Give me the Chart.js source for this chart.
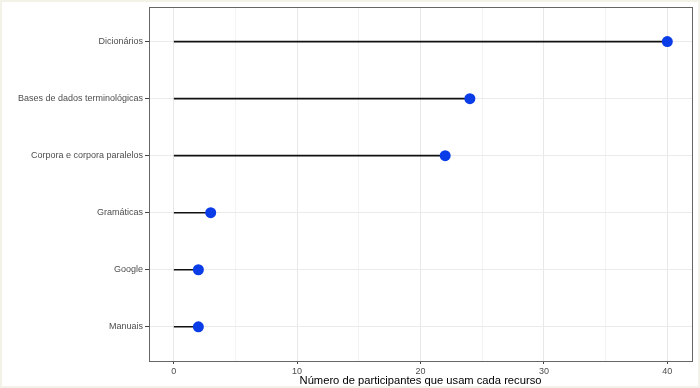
<!DOCTYPE html>
<html>
<head>
<meta charset="utf-8">
<script src="https://cdn.jsdelivr.net/npm/chart.js@4/dist/chart.umd.min.js"></script>
<style>
  html, body { margin: 0; padding: 0; background: #f3f2e8; }
  canvas { display: block; }
</style>
</head>
<body>
<canvas id="chart" width="700" height="388"></canvas>
<script>
// resources, top to bottom
const categories = ['Dicionários', 'Bases de dados terminológicas', 'Corpora e corpora paralelos', 'Gramáticas', 'Google', 'Manuais'];
const counts = [40, 24, 22, 3, 2, 2];
const majorTicks = [0, 10, 20, 30, 40];
const minorTicks = [5, 15, 25, 35];
const axisTitle = 'Número de participantes que usam cada recurso';

const n = categories.length;
const yPos = categories.map((c, i) => n - i);

// page frame + panel border like the ggplot theme_bw
const panelPlugin = {
    id: 'panel',
    beforeDraw(chart) {
        const ctx = chart.ctx;
        ctx.save();
        ctx.fillStyle = '#f3f2e8';
        ctx.fillRect(0, 0, chart.width, chart.height);
        ctx.fillStyle = '#ffffff';
        ctx.fillRect(2, 2, chart.width - 4, chart.height - 4);
        ctx.restore();
    },
    afterDraw(chart) {
        const a = chart.chartArea;
        const ctx = chart.ctx;
        ctx.save();
        ctx.strokeStyle = '#666666';
        ctx.lineWidth = 1;
        ctx.strokeRect(Math.round(a.left) + 0.5, Math.round(a.top) + 0.5,
            Math.round(a.right - a.left), Math.round(a.bottom - a.top));
        ctx.restore();
    }
};

const ctx = document.getElementById('chart').getContext('2d');
new Chart(ctx, {
    type: 'bar',
    data: {
        datasets: [
            {
                type: 'scatter',
                order: 0,
                data: counts.map((v, i) => ({ x: v, y: yPos[i] })),
                pointRadius: 5.5,
                pointBackgroundColor: '#0a3ce8',
                pointBorderColor: '#0a3ce8',
                pointBorderWidth: 0
            },
            {
                type: 'bar',
                order: 1,
                data: counts.map((v, i) => ({ x: [0, v], y: yPos[i] })),
                backgroundColor: '#111111',
                barThickness: 1
            }
        ]
    },
    options: {
        indexAxis: 'y',
        responsive: false,
        animation: false,
        maintainAspectRatio: false,
        layout: { padding: { top: 6, right: 8, left: 0, bottom: 0 } },
        plugins: {
            legend: { display: false },
            tooltip: { enabled: false }
        },
        scales: {
            x: {
                type: 'linear',
                min: -2,
                max: 42,
                afterBuildTicks: (scale) => {
                    scale.ticks = majorTicks.concat(minorTicks).sort((a, b) => a - b).map(v => ({ value: v }));
                },
                afterFit: (scale) => { scale.height = 27; },
                border: { display: false },
                grid: {
                    color: (c) => majorTicks.includes(c.tick.value) ? '#e8e8e8' : '#f3f3f3',
                    tickColor: (c) => majorTicks.includes(c.tick.value) ? '#444444' : 'rgba(0,0,0,0)',
                    tickLength: 3,
                    lineWidth: 1
                },
                ticks: {
                    autoSkip: false,
                    maxRotation: 0,
                    padding: 2,
                    color: '#4d4d4d',
                    font: { family: 'Liberation Sans, Arial, sans-serif', size: 9 },
                    callback: (v) => majorTicks.includes(v) ? String(v) : ''
                },
                title: {
                    display: true,
                    text: axisTitle,
                    color: '#000000',
                    padding: { top: 0, bottom: 0 },
                    font: { family: 'Liberation Sans, Arial, sans-serif', size: 11.2 }
                }
            },
            y: {
                type: 'linear',
                min: 0.4,
                max: n + 0.6,
                offset: false,
                afterBuildTicks: (scale) => {
                    scale.ticks = yPos.map(v => ({ value: v }));
                },
                afterFit: (scale) => { scale.width = 149; },
                border: { display: false },
                grid: {
                    offset: false,
                    color: '#ebebeb',
                    tickColor: '#444444',
                    tickLength: 4,
                    lineWidth: 1
                },
                ticks: {
                    autoSkip: false,
                    padding: 2,
                    color: '#4d4d4d',
                    font: { family: 'Liberation Sans, Arial, sans-serif', size: 9 },
                    callback: (v) => {
                        const i = yPos.indexOf(v);
                        return i >= 0 ? categories[i] : '';
                    }
                }
            }
        }
    },
    plugins: [panelPlugin]
});
</script>
</body>
</html>
